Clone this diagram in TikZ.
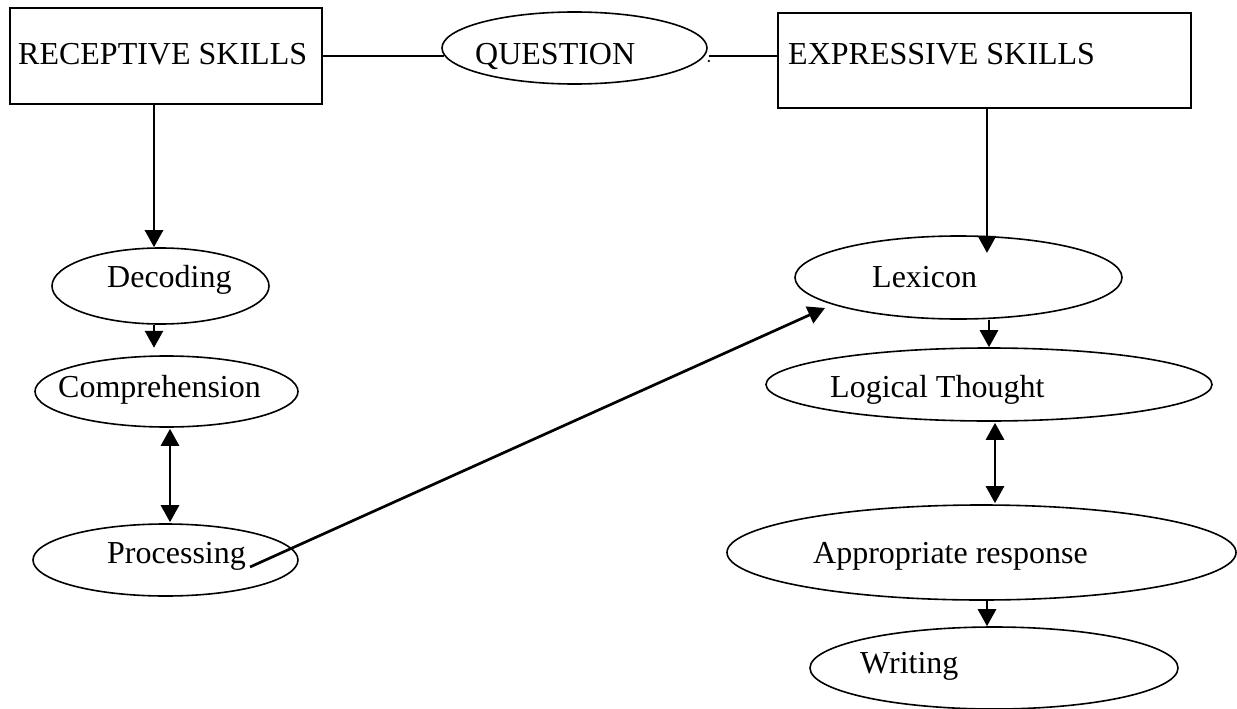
\documentclass[tikz,border=0pt]{standalone}
\usepackage{fontspec}
\setmainfont{Liberation Serif}
\usetikzlibrary{shapes.geometric,arrows.meta}
\tikzset{
  box/.style={draw, line width=1.8pt, rectangle, inner sep=0pt},
  oval/.style={draw, line width=1.6pt, ellipse, inner sep=0pt},
  lbl/.style={anchor=base west, inner sep=0pt, font=\fontsize{32}{36}\selectfont},
  link/.style={line width=1.7pt},
  arr/.style={line width=2.7pt, -{Triangle[width=18pt,length=17pt]}},
  darr/.style={line width=2.7pt, {Triangle[width=18pt,length=17pt]}-{Triangle[width=18pt,length=17pt]}}
}
\begin{document}
\begin{tikzpicture}[x=1pt,y=-1pt]
\useasboundingbox (0,0) rectangle (1237,709);
% shapes
\node[box, minimum width=312pt, minimum height=96pt] (rec) at (166,56) {};
\node[oval, minimum width=265pt, minimum height=72pt] (q) at (574.5,48) {};
\node[box, minimum width=413pt, minimum height=95pt] (exp) at (984.5,60.5) {};
\node[oval, minimum width=217pt, minimum height=76pt] (dec) at (160.5,286) {};
\node[oval, minimum width=263pt, minimum height=71pt] (comp) at (166.5,391.5) {};
\node[oval, minimum width=265pt, minimum height=72pt] (proc) at (165.5,560) {};
\node[oval, minimum width=327pt, minimum height=83pt] (lex) at (958.5,277.5) {};
\node[oval, minimum width=446pt, minimum height=73pt] (log) at (989,384.5) {};
\node[oval, minimum width=509pt, minimum height=95pt] (app) at (981.5,552.5) {};
\node[oval, minimum width=368pt, minimum height=82pt] (wri) at (994,668) {};
% texts
\node[lbl] (trec) at (18,65) {RECEPTIVE SKILLS};
\node[lbl] (tq) at (475,65) {QUESTION};
\node[lbl] (texp) at (788,65) {EXPRESSIVE SKILLS};
\node[lbl] (tdec) at (107,287) {Decoding};
\node[lbl] (tcomp) at (58,397) {Comprehension};
\node[lbl] (tproc) at (107,563) {Processing};
\node[lbl] (tlex) at (872,287) {Lexicon};
\node[lbl] (tlog) at (830,397) {Logical Thought};
\node[lbl] (tapp) at (813,563) {Appropriate response};
\node[lbl] (twri) at (860,673) {Writing};
% named end points
\coordinate (procout) at ([xshift=84.5pt,yshift=-7pt]proc.center);
\coordinate (lexin) at ([xshift=-133.5pt,yshift=-30.5pt]lex.center);
% connectors
\draw[link] (rec.east) -- ([xshift=3pt]rec.east -| q.west);
\draw[link] ([xshift=1pt]rec.east -| q.east) -- (rec.east -| exp.west);
\fill ([xshift=1pt,yshift=-5pt]rec.east -| q.east) circle (1.3pt);
\draw[arr] ([xshift=-12pt]rec.south) -- ([xshift=-12pt]rec.south |- dec.north);
\draw[arr] ([xshift=-6.5pt]dec.south) -- ([xshift=-6.5pt,yshift=-23pt]dec.south);
\draw[darr] ([xshift=3.5pt,yshift=-1pt]comp.south) -- ([xshift=3.5pt,yshift=1pt]comp.south |- proc.north);
\draw[arr] (procout) -- (lexin);
\draw[arr] ([xshift=2.5pt]exp.south) -- ([xshift=2.5pt,yshift=-144pt]exp.south);
\draw[arr] (log.north |- lex.south) -- (log.north);
\draw[darr] ([xshift=6pt,yshift=-1pt]log.south) -- ([xshift=6pt,yshift=1pt]log.south |- app.north);
\draw[arr] ([xshift=5.5pt]app.south) -- ([xshift=5.5pt]app.south |- wri.north);
\end{tikzpicture}
\end{document}
